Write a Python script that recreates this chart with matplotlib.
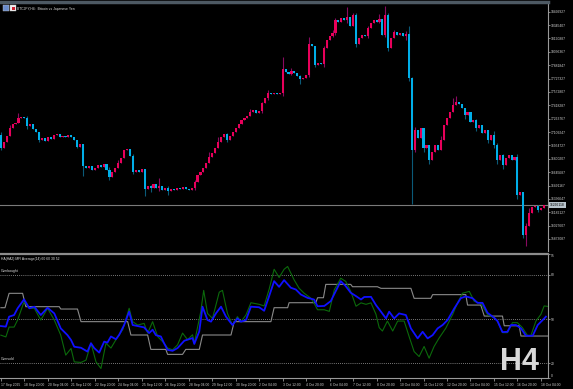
import matplotlib.pyplot as plt
from matplotlib import font_manager
from matplotlib.patches import Rectangle
from matplotlib.transforms import blended_transform_factory

# ---- BTCJPY H4 candles (prices in thousand yen) ---- #
first_open = 17075
closes = [16925, 16994, 17063, 17156, 17202, 17214, 17271, 17283, 17271, 17179,
          17202, 17144, 17110, 17017, 17040, 17006, 17052, 17029, 17075, 17087,
          17052, 17063, 17052, 17075, 17052, 17017, 16936, 16971, 16717, 16694,
          16717, 16670, 16694, 16728, 16705, 16740, 16670, 16590, 16647, 16694,
          16751, 16809, 16902, 16913, 16832, 16647, 16670, 16647, 16682, 16451,
          16486, 16462, 16509, 16462, 16486, 16439, 16462, 16428, 16451, 16439,
          16462, 16451, 16474, 16451, 16439, 16462, 16532, 16613, 16647, 16694,
          16751, 16821, 16867, 16925, 16994, 17052, 17087, 17017, 17063, 17110,
          17156, 17202, 17248, 17271, 17295, 17341, 17364, 17329, 17352, 17445,
          17503, 17560, 17549, 17560, 17549, 17560, 17838, 17803, 17780, 17815,
          17791, 17757, 17722, 17734, 17768, 18127, 18104, 17884, 17907, 17896,
          18080, 18173, 18219, 18254, 18404, 18381, 18427, 18404, 18439, 18335,
          18462, 18127, 18196, 18231, 18219, 18312, 18369, 18404, 18381, 18416,
          18231, 18462, 18080, 18196, 18265, 18231, 18254, 18219, 18242, 17734,
          16902, 17133, 17040, 17156, 16925, 16959, 16786, 16879, 16959, 16902,
          17017, 17191, 17271, 17341, 17422, 17456, 17433, 17387, 17306, 17341,
          17225, 17248, 17156, 17191, 17098, 17133, 17017, 17075, 16959, 16786,
          16844, 16728, 16809, 16844, 16786, 16821, 16382, 16416, 15919, 16023,
          16173, 16243, 16254, 16208, 16231, 16266]

# bars with visible wicks
wick_bars = [0, 3, 6, 9, 13, 26, 28, 37, 40, 45, 49, 51, 54, 57, 66, 71, 74, 77, 85, 89,
             91, 96, 99, 102, 105, 107, 110, 113, 114, 118, 120, 121, 125, 129, 131, 132,
             134, 138, 139, 140, 141, 144, 146, 150, 154, 155, 158, 162, 166, 168, 169,
             171, 176, 178, 179, 180, 183]
wick_highs = [17110, 17190, 17330, 17300, 17060, 17000, 16960, 16700, 16790, 16850,
              16680, 16500, 16580, 16480, 16560, 16880, 17050, 17100, 17380, 17460,
              17600, 17980, 17850, 17770, 18210, 18090, 18100, 18290, 18430, 18555,
              18480, 18485, 18340, 18470, 18565, 18480, 18290, 18280, 18340, 17740,
              17170, 17160, 16880, 17060, 17500, 17520, 17390, 17260, 17110, 17120,
              16980, 16850, 16850, 16400, 16060, 16230, 16270]
wick_lows = [16900, 17100, 17240, 17150, 16990, 16920, 16600, 16560, 16720, 16620,
             16370, 16420, 16430, 16380, 16440, 16780, 16950, 16990, 17300, 17330,
             17480, 17530, 17770, 17660, 17750, 17860, 17860, 18210, 18230, 18370,
             18420, 18090, 18200, 18370, 18210, 18050, 18210, 18170, 17700, 16280,
             16880, 16880, 16740, 16990, 17380, 17420, 17260, 17120, 16980, 16930,
             16740, 16680, 16340, 15880, 15790, 16140, 16190]

bid_price = 16266118
price_ticks = [18499927, 18345407, 18190887, 18036367, 17881847, 17727327, 17572807,
               17418287, 17263767, 17109247, 16954727, 16800207, 16645687, 16491167,
               16336647, 16182127, 16027607, 15873087]

time_labels = ["17 Sep 2025", "18 Sep 20:00", "20 Sep 04:00", "21 Sep 12:00", "22 Sep 20:00",
               "24 Sep 04:00", "25 Sep 12:00", "26 Sep 20:00", "28 Sep 04:00", "29 Sep 12:00",
               "30 Sep 20:00", "2 Oct 04:00", "3 Oct 12:00", "4 Oct 20:00", "6 Oct 04:00",
               "7 Oct 12:00", "8 Oct 20:00", "10 Oct 04:00", "11 Oct 12:00", "12 Oct 20:00",
               "14 Oct 04:00", "15 Oct 12:00", "16 Oct 20:00", "18 Oct 04:00"]
time_label_bars = [0, 8, 16, 24, 32, 40, 48, 56, 64, 72, 80, 88, 96, 104, 112, 120,
                   128, 136, 144, 152, 160, 168, 176, 184]

# ---- MFI average sub window (bar position, value) ---- #
mfi_bars = [0, 1.7, 2.8, 4.5, 5.7, 7.9, 9.7, 11.4, 13.6, 15.9,
            18.2, 20.4, 22.1, 23.9, 25, 27.3, 29, 30.7, 32.4, 34.1,
            35.8, 37.5, 39.2, 41.5, 43.7, 44.9, 46.6, 48.8, 50, 51.7,
            53.4, 55.6, 56.8, 58.5, 60.2, 61.9, 63.6, 65.3, 65.9, 68.1,
            69.1, 70.4, 72.1, 74.4, 75.5, 77.2, 78.9, 80.6, 81.8, 83.5,
            85.2, 88, 89.7, 91.4, 93.1, 94.8, 96.5, 97.7, 99.9, 101.6,
            103.3, 105.6, 106.7, 107.9, 110.2, 111.9, 113.6, 115.8, 117.5, 119.2,
            121, 122.7, 124.4, 126.1, 127.8, 128.9, 130, 131.7, 133.5, 135.2,
            137.4, 139.1, 140.8, 142.5, 144.2, 145.9, 147.6, 149.3, 151.6, 153.9,
            155.6, 157.3, 159.6, 161.3, 163.5, 165.8, 168.1, 169.2, 170.9, 172.6,
            174.3, 176, 177.7, 179.4, 180.6, 182.3, 184, 185.1, 186.3]
mfi_vals = [39, 37.8, 44.5, 44.5, 49.3, 61.8, 57.3, 57.3, 49.3, 57.3,
            49.3, 39, 25.4, 29.9, 20.8, 20.4, 22, 33.5, 20.8, 16.3,
            33.5, 30.2, 35.9, 42.7, 57.3, 48.2, 45.9, 47, 40.4, 48.2,
            38.1, 33.5, 30.2, 29, 32.4, 40.4, 35.9, 39.3, 33.5, 55,
            69.5, 53.8, 50.4, 68.3, 69.5, 53.8, 45.9, 51.6, 48.2, 52.7,
            61.1, 60, 58.9, 70.3, 83.9, 78.3, 83.9, 85.8, 76.7, 71,
            67.6, 64.2, 60.8, 56.3, 56.3, 55.2, 69.9, 77.8, 75.6, 68.8,
            58.7, 61, 60, 61, 53.2, 44.1, 41.8, 48.6, 41.8, 48.6,
            48.6, 38, 27.8, 24.4, 31.3, 23.3, 31.3, 37, 43.8, 53,
            61, 67.6, 68.8, 62, 60.8, 53, 50.8, 48.6, 40.7, 40.7,
            47.5, 47.5, 44.1, 38.8, 38.8, 48.6, 53.2, 58.9, 58.6]

avg_bars = [0, 1.7, 2.8, 4.5, 5.7, 7.9, 9.7, 11.4, 13.6, 15.9,
            18.2, 20.4, 22.7, 23.9, 25, 27.3, 29.5, 30.7, 31.8, 33.5,
            35.2, 36.3, 37.5, 39.2, 40.3, 42, 43.7, 44.9, 46.6, 48.8,
            50.5, 51.7, 52.8, 54.5, 55.6, 56.8, 58.5, 60.2, 62.5, 63.6,
            65.3, 65.9, 67.6, 68.7, 70.4, 71.6, 73.3, 75, 76.7, 78.9,
            80.6, 81.8, 83.5, 85.2, 88, 89.7, 91.4, 93.1, 94.8, 96.5,
            98.8, 100.5, 102.2, 104.5, 106.7, 107.9, 110.2, 112.4, 114.1, 115.8,
            117.5, 119.2, 121, 122.7, 123.8, 126.1, 127.8, 129.5, 131.2, 132.3,
            134, 135.7, 138, 139.7, 142, 143.7, 145.4, 147.1, 148.8, 150.5,
            152.2, 154.5, 156.7, 158.4, 160.7, 162.4, 164.1, 165.8, 168.1, 169.2,
            170.9, 172.6, 173.8, 175.5, 177.2, 178.9, 181.2, 182.9, 184.6, 185.7]
avg_vals = [45.2, 44.8, 51.6, 52.7, 57.3, 63.4, 57.3, 58.4, 52.7, 57.7,
            53.8, 43.6, 39, 35.7, 31.1, 30.4, 27.8, 33.5, 30.2, 27.1,
            34.6, 33.9, 38.1, 36.2, 39.2, 45.9, 55, 45.9, 45.2, 44.3,
            40.4, 42.7, 39, 38.1, 33.5, 29, 28.3, 30.2, 35.2, 35.9,
            37, 33, 41.6, 58.4, 49.3, 48.2, 53.9, 58.4, 51.6, 45.9,
            50.4, 48.2, 49.3, 58.4, 58, 55.6, 65.6, 75.8, 71.9, 76.5,
            71.3, 70.1, 66.7, 64.4, 63.3, 58.7, 58.9, 62.2, 69, 75.8,
            72.4, 67.9, 65.6, 63.3, 65, 65.1, 59.5, 55, 50.4, 55,
            50.4, 53.8, 52.7, 43.6, 36.8, 41.3, 36.8, 39, 43.6, 45.9,
            49.3, 57.3, 64.2, 65.4, 64.2, 61, 61, 54.2, 50.8, 48.6,
            41.1, 41.3, 45.9, 45.9, 43.6, 38.6, 38.6, 45.9, 49.3, 51.6]

lvl_bars = [0, 1.4, 2.8, 7.4, 8.5, 19.9, 20.4, 26.1, 27.3, 43.2,
            44.3, 50, 51.1, 56.2, 56.8, 61.9, 63, 67.6, 68.7, 78.4,
            79.5, 92, 93.1, 97.7, 98.2, 107.3, 107.9, 109.9, 110.7, 119.2,
            119.8, 128.3, 129.5, 139.7, 140.8, 146.5, 147.1, 158.4, 159, 163.5,
            164.7, 170.9, 171.5, 176.6, 177.2, 186.3]
lvl_vals = [57.7, 57.7, 67.5, 67.5, 58.4, 58.4, 56.8, 56.8, 48.2, 48.2,
            39.1, 39.1, 29.3, 29.3, 25.9, 25.9, 29.3, 29.3, 39.1, 39.1,
            48.2, 48.2, 57.7, 57.7, 61.1, 61.1, 64.5, 64.5, 73.6, 73.6,
            72, 72, 70.9, 70.9, 64.1, 64.1, 66.6, 66.6, 59.5, 59.5,
            52, 52, 45.4, 45.4, 38.4, 38.4]

levels = [20, 50, 80]
sub_ticks = [9.8, 20, 50, 80, 94.3]
sub_tick_labels = ["0", "20", "50", "80", "95"]

# ---- colours / fonts ---- #
up_body, up_wick = "#e8005a", "#8a0a60"
dn_body, dn_wick = "#00aee8", "#0a5a78"
txt = "#d0d0d0"
axis_col = "#9a9a9a"

installed = {f.name for f in font_manager.fontManager.ttflist}
if "Liberation Sans Narrow" in installed:
    small = dict(family="Liberation Sans Narrow", size=2.9)
else:
    small = dict(family="Liberation Sans", size=2.4)

W, H = 573, 389
fig = plt.figure(figsize=(W / 100, H / 100), dpi=100, facecolor="black")
plot_w = 548 / W
ax = fig.add_axes([0, 1 - 251 / H, plot_w, 249 / H], facecolor="black")
ax2 = fig.add_axes([0, 1 - 378 / H, plot_w, 124 / H], facecolor="black", sharex=ax)

# ---- candles ---- #
opens = [first_open] + closes[:-1]
highs = [max(o, c) for o, c in zip(opens, closes)]
lows = [min(o, c) for o, c in zip(opens, closes)]
for b, hi, lo in zip(wick_bars, wick_highs, wick_lows):
    highs[b] = max(highs[b], hi)
    lows[b] = min(lows[b], lo)

for i, (o, c, hi, lo) in enumerate(zip(opens, closes, highs, lows)):
    up = c >= o
    ax.vlines(i, lo * 1000, hi * 1000, color=up_wick if up else dn_wick, lw=0.8, zorder=2)
    ax.bar(i, max(abs(c - o), 6) * 1000, bottom=min(o, c) * 1000, width=0.72,
           color=up_body if up else dn_body, linewidth=0, zorder=3)

ax.set_xlim(-0.3, 548 / 2.935 - 0.3)
ax.set_ylim(15734400, 18612100)

# bid line + label
ax.axhline(bid_price, color="#7a7a7a", lw=0.8, zorder=1)
tr = blended_transform_factory(ax.transAxes, ax.transData)
ax.text(1.004, bid_price, f"{bid_price}", transform=tr, color="black", va="center", ha="left",
        clip_on=False, fontdict=small,
        bbox=dict(boxstyle="square,pad=0.35", fc="#b8c4cc", ec="none"))

ax.yaxis.tick_right()
ax.set_yticks(price_ticks)
ax.set_yticklabels([str(p) for p in price_ticks], fontdict=small)
ax.tick_params(axis="y", colors=axis_col, labelcolor=txt, length=1.5, width=0.6, pad=0.8)
ax.tick_params(axis="x", bottom=False, labelbottom=False)
for side in ["left", "bottom"]:
    ax.spines[side].set_visible(False)
ax.spines["right"].set_color(axis_col)
ax.spines["right"].set_linewidth(0.8)
ax.spines["top"].set_color("#4d5963")
ax.spines["top"].set_linewidth(2.5)

ax.text(17 / 548, 1 - 5 / 249, "BTCJPY,H4:  Bitcoin vs Japanese Yen", transform=ax.transAxes,
        color="#e0e0e0", va="top", ha="left", fontdict=small)
# symbol icons
fig.patches.append(Rectangle((3 / W, 1 - 11 / H), 6 / W, 6 / H, transform=fig.transFigure,
                             fc="#6a8ccc", ec="#c0c0c0", lw=0.3))
fig.patches.append(Rectangle((10 / W, 1 - 11 / H), 6 / W, 6 / H, transform=fig.transFigure,
                             fc="#f0f0f0", ec="#c0c0c0", lw=0.3))
fig.patches.append(Rectangle((11.5 / W, 1 - 9.5 / H), 3 / W, 3 / H, transform=fig.transFigure,
                             fc="#d02030", ec="none"))

# ---- MFI average sub window ---- #
ax2.plot(lvl_bars, lvl_vals, color="#8a8a8a", lw=0.8, zorder=2)
ax2.plot(mfi_bars, mfi_vals, color="#0b6a0b", lw=0.8, zorder=3)
ax2.plot(avg_bars, avg_vals, color="#1010ff", lw=1.3, zorder=4)
for lv in levels:
    ax2.axhline(lv, color="#a0a0a0", lw=0.6, linestyle=(0, (1, 1.5)), zorder=1)

ax2.set_ylim(9.8, 94.3)
ax2.yaxis.tick_right()
ax2.set_yticks(sub_ticks)
ax2.set_yticklabels(sub_tick_labels, fontdict=small)
ax2.get_yticklabels()[0].set_verticalalignment("bottom")
ax2.get_yticklabels()[-1].set_verticalalignment("top")
ax2.tick_params(axis="y", colors=axis_col, labelcolor=txt, length=1.5, width=0.6, pad=0.8)

ax2.set_xticks(time_label_bars)
ax2.set_xticklabels(time_labels, fontdict=small)
ax2.tick_params(axis="x", colors=axis_col, labelcolor=txt, length=2.5, width=0.6, pad=1.2)
for lab in ax2.get_xticklabels():
    lab.set_horizontalalignment("left")

ax2.spines["left"].set_visible(False)
ax2.spines["right"].set_color(axis_col)
ax2.spines["right"].set_linewidth(0.8)
ax2.spines["bottom"].set_color(axis_col)
ax2.spines["bottom"].set_linewidth(0.8)
ax2.spines["top"].set_color("#8c8c8c")
ax2.spines["top"].set_linewidth(1.6)

ax2.text(1 / 548, 1 - 3 / 124, "HA(HA2) MFI Average(14) 60 60 30 52", transform=ax2.transAxes,
         color="#e0e0e0", va="top", ha="left", fontdict=small)
ax2.text(1 / 548, 81.5, "Overbought", transform=blended_transform_factory(ax2.transAxes, ax2.transData),
         color="#e0e0e0", va="bottom", ha="left", fontdict=small)
ax2.text(1 / 548, 21.5, "Oversold", transform=blended_transform_factory(ax2.transAxes, ax2.transData),
         color="#e0e0e0", va="bottom", ha="left", fontdict=small)

fig.text(500 / W, 1 - 370 / H, "H4", fontsize=22, fontweight="bold", family="Liberation Sans",
         color="#d8d8d8", va="baseline", ha="left")

fig.savefig("out.png", dpi=100, facecolor="black")
